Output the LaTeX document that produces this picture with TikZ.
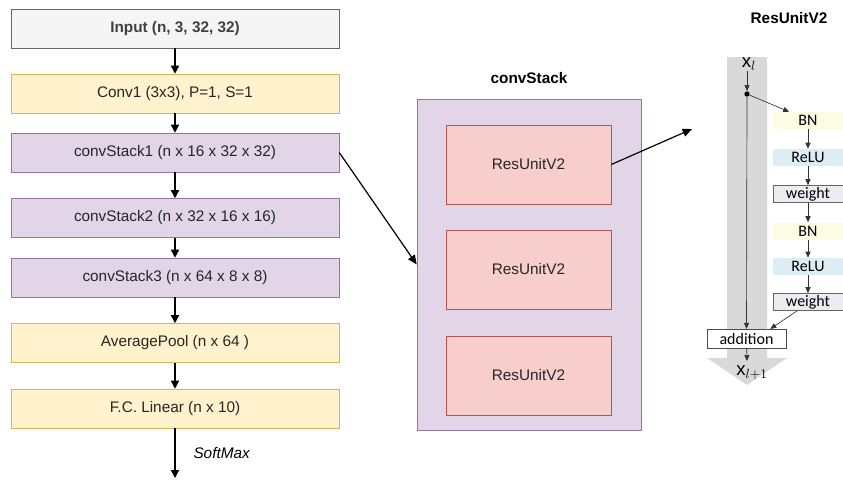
\documentclass[tikz,border=0pt]{standalone}
\usepackage{fontspec}
\setmainfont{Liberation Sans}
\newfontfamily\unitfont{Carlito}
\usetikzlibrary{arrows.meta}

\definecolor{inputfill}{HTML}{F5F5F5}
\definecolor{inputline}{HTML}{666666}
\definecolor{yellowfill}{HTML}{FFF2CC}
\definecolor{yellowline}{HTML}{D6B656}
\definecolor{purplefill}{HTML}{E1D5E7}
\definecolor{purpleline}{HTML}{9673A6}
\definecolor{redfill}{HTML}{F8CECC}
\definecolor{redline}{HTML}{B85450}
\definecolor{bnfill}{HTML}{FDFCE3}
\definecolor{relufill}{HTML}{DCEEF4}
\definecolor{weightfill}{HTML}{EEEBF3}
\definecolor{bandgray}{HTML}{D9D9D9}

\begin{document}
\begin{tikzpicture}[x=0.75pt, y=-0.75pt,
    layer/.style={draw, minimum width=246pt, minimum height=29.25pt, inner sep=0pt, text=black!85, font=\fontsize{11.5}{13}\selectfont},
    inputbox/.style={layer, fill=inputfill, draw=inputline, text=black!75, font=\fontsize{11.5}{13}\selectfont\bfseries},
    convbox/.style={layer, fill=yellowfill, draw=yellowline},
    stackbox/.style={layer, fill=purplefill, draw=purpleline},
    resbox/.style={draw=redline, fill=redfill, minimum width=123.75pt, minimum height=59.25pt, inner sep=0pt, text=black!85, font=\fontsize{11.5}{13}\selectfont},
    unitbox/.style={minimum width=52.5pt, minimum height=12.75pt, inner sep=0pt, font=\unitfont\fontsize{12}{14}\selectfont},
    title/.style={font=\fontsize{11.5}{13}\selectfont\bfseries},
    flow/.style={-{Triangle[length=6pt,width=6pt]}, line width=1.1pt},
    link/.style={-{Triangle[length=7pt,width=6pt]}, line width=0.9pt},
    thinflow/.style={-{Triangle[length=4.5pt,width=3.8pt]}, line width=0.5pt, black!80}]
    \useasboundingbox (0,0) rectangle (843,479);

    \node (input) [inputbox] at (175,28.5) {Input (n, 3, 32, 32)};
    \node (conv1) [convbox] at (175,93.5) {Conv1 (3x3), P=1, S=1};
    \node (cs1) [stackbox] at (175,152.5) {convStack1 (n x 16 x 32 x 32)};
    \node (cs2) [stackbox] at (175,218) {convStack2 (n x 32 x 16 x 16)};
    \node (cs3) [stackbox] at (175,277.5) {convStack3 (n x 64 x 8 x 8)};
    \node (pool) [convbox] at (175,343) {AveragePool (n x 64 )};
    \node (fc) [convbox] at (175,408.5) {F.C. Linear (n x 10)};
    \coordinate (out) at (175,478);

    \draw [flow] (input) -- (conv1);
    \draw [flow] (conv1) -- (cs1);
    \draw [flow] (cs1) -- (cs2);
    \draw [flow] (cs2) -- (cs3);
    \draw [flow] (cs3) -- (pool);
    \draw [flow] (pool) -- (fc);
    \draw [flow] (fc) -- node[right, xshift=10pt, font=\fontsize{11.5}{13}\selectfont\itshape] {SoftMax} (out);

    \node (stacktitle) [title] at (529,78) {convStack};
    \node (stack) [draw=purpleline, fill=purplefill, minimum width=168pt, minimum height=248.25pt] at (529,264.5) {};
    \node (res1) [resbox] at (528.5,164.5) {ResUnitV2};
    \node (res2) [resbox] at (528.5,269.5) {ResUnitV2};
    \node (res3) [resbox] at (528.5,375.5) {ResUnitV2};
    \coordinate (unitin) at (692,129);

    \draw [link] (cs1.east) -- (stack.west);
    \draw [link] (res1.east) -- (unitin);

    \node (unittitle) [title] at (789,18) {ResUnitV2};
    \fill [bandgray] (727,57) -- (767,57) -- (767,358) -- (787,358) -- (747,385) -- (707,358) -- (727,358) -- cycle;
    \node (xl) [inner sep=0pt, font=\fontsize{14}{16}\selectfont] at (749,64) {$\mathrm{x}_{l}$};
    \node (split) [circle, fill=black, inner sep=0pt, minimum size=4pt] at (747,94) {};
    \node (bn1) [unitbox, fill=bnfill] at (808,120.5) {BN};
    \node (relu1) [unitbox, fill=relufill] at (808,157.5) {ReLU};
    \node (w1) [unitbox, fill=weightfill, draw=black!60] at (808,194) {weight};
    \node (bn2) [unitbox, fill=bnfill] at (808,231) {BN};
    \node (relu2) [unitbox, fill=relufill] at (808,266.5) {ReLU};
    \node (w2) [unitbox, fill=weightfill, draw=black!60] at (808,302) {weight};
    \node (add) [unitbox, fill=white, draw=black!70, minimum width=59.25pt, minimum height=14pt] at (746.5,338.5) {addition};
    \node (xl1) [inner sep=0pt, font=\fontsize{14}{16}\selectfont] at (752,373) {$\mathrm{x}_{l+1}$};
    \coordinate (addout) at (747,361);

    \draw [thinflow] (xl.south -| split) -- (split);
    \draw [thinflow] (split) -- (add);
    \draw [thinflow] (split) -- (bn1.155);
    \draw [thinflow] (bn1) -- (relu1);
    \draw [thinflow] (relu1) -- (w1);
    \draw [thinflow] (w1) -- (bn2);
    \draw [thinflow] (bn2) -- (relu2);
    \draw [thinflow] (relu2) -- (w2);
    \draw [thinflow] (w2.219) -- (add.22);
    \draw [thinflow] (add) -- (addout);
\end{tikzpicture}
\end{document}
